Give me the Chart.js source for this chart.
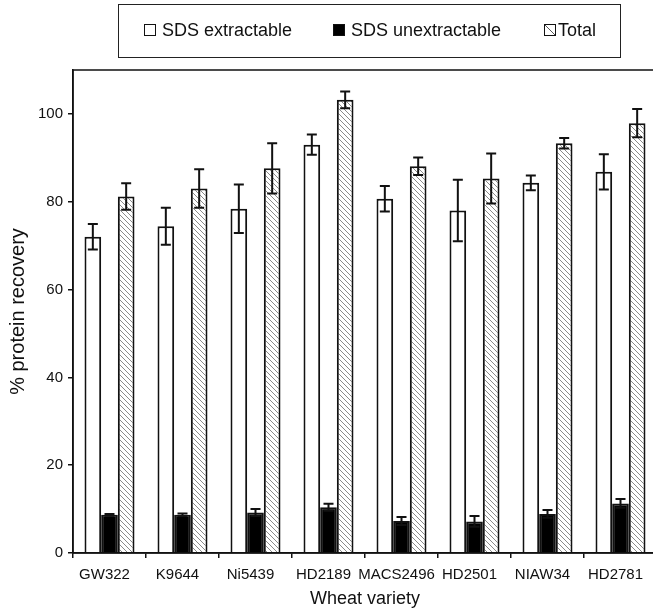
<!DOCTYPE html>
<html lang="en">
<head>
  <meta charset="UTF-8">
  <title>Protein recovery by wheat variety</title>
  <style>
    body {
      margin: 0;
      background: #fff;
      overflow: hidden;
      font-family: "Liberation Sans", Arial, sans-serif;
    }
    #wrap {
      position: relative;
      width: 653px;
      height: 611px;
      overflow: hidden;
    }
    #chart {
      position: absolute;
      left: 0;
      top: 0;
    }
    #legend {
      position: absolute;
      left: 118px;
      top: 4px;
      width: 501px;
      height: 52px;
      border: 1.5px solid #222;
      font-size: 18px;
      color: #111;
    }
    #legend .item {
      position: absolute;
      top: 14px;
      line-height: 22px;
      white-space: nowrap;
    }
    #legend .sw {
      display: inline-block;
      width: 10px;
      height: 10px;
      border: 1.5px solid #111;
      margin-right: 6px;
      vertical-align: 0px;
    }
  </style>
</head>
<body>
  <div id="wrap">
    <canvas id="chart" width="670" height="611"></canvas>
    <div id="legend">
      <div class="item" style="left:25px"><span class="sw" style="background:#fff"></span>SDS extractable</div>
      <div class="item" style="left:214px"><span class="sw" style="background:#000"></span>SDS unextractable</div>
      <div class="item" style="left:425px"><span class="sw" id="hatchSw" style="margin-right:2px"></span>Total</div>
    </div>
  </div>

  <script src="https://cdn.jsdelivr.net/npm/chart.js"></script>
  <script>
    const categories = ['GW322', 'K9644', 'Ni5439', 'HD2189', 'MACS2496', 'HD2501', 'NIAW34', 'HD2781'];
    const extractable = [72.0, 74.4, 78.4, 93.0, 80.7, 78.0, 84.3, 86.8];
    const extractableErr = [2.9, 4.2, 5.5, 2.3, 2.9, 7.0, 1.7, 4.0];
    const unextractable = [8.7, 8.7, 9.2, 10.4, 7.3, 7.2, 8.9, 11.3];
    const unextractableErr = [0.2, 0.3, 0.8, 0.8, 0.9, 1.2, 0.9, 1.0];
    const total = [81.2, 83.0, 87.6, 103.2, 88.1, 85.3, 93.3, 97.9];
    const totalErr = [3.0, 4.4, 5.7, 1.9, 2.0, 5.7, 1.2, 3.2];
    const yTicks = [0, 20, 40, 60, 80, 100];

    // diagonal hatch for the Total bars
    function makeHatch(size, color) {
      const c = document.createElement('canvas');
      c.width = size;
      c.height = size;
      const g = c.getContext('2d');
      g.fillStyle = '#fff';
      g.fillRect(0, 0, size, size);
      g.strokeStyle = color;
      g.lineWidth = 1;
      g.beginPath();
      g.moveTo(-1, -1); g.lineTo(size + 1, size + 1);
      g.moveTo(-1, size - 1); g.lineTo(1, size + 1);
      g.moveTo(size - 1, -1); g.lineTo(size + 1, 1);
      g.stroke();
      return c;
    }
    const ctx = document.getElementById('chart').getContext('2d');
    const hatch = ctx.createPattern(makeHatch(5, '#8a8a8a'), 'repeat');
    document.getElementById('hatchSw').style.background =
      'url(' + makeHatch(10, '#555').toDataURL() + ')';

    const errors = [extractableErr, unextractableErr, totalErr];

    const errorBars = {
      id: 'errorBars',
      afterDatasetsDraw(chart) {
        const c = chart.ctx;
        const y = chart.scales.y;
        c.save();
        c.strokeStyle = '#111';
        c.lineWidth = 2;
        chart.data.datasets.forEach((ds, i) => {
          const meta = chart.getDatasetMeta(i);
          meta.data.forEach((bar, j) => {
            const v = ds.data[j], e = errors[i][j];
            const top = y.getPixelForValue(v + e);
            const bot = y.getPixelForValue(v - e);
            c.beginPath();
            c.moveTo(bar.x, top); c.lineTo(bar.x, bot);
            c.moveTo(bar.x - 5, top); c.lineTo(bar.x + 5, top);
            c.moveTo(bar.x - 5, bot); c.lineTo(bar.x + 5, bot);
            c.stroke();
          });
        });
        c.restore();
      }
    };

    const frame = {
      id: 'frame',
      afterDraw(chart) {
        const a = chart.chartArea, c = chart.ctx;
        c.save();
        c.strokeStyle = '#111';
        c.lineWidth = 1.5;
        c.strokeRect(a.left, a.top, a.right - a.left, a.bottom - a.top);
        c.restore();
      }
    };

    const barStyle = { borderColor: '#111', borderWidth: 2, categoryPercentage: 0.685, barPercentage: 1 };

    new Chart(ctx, {
      type: 'bar',
      data: {
        labels: categories,
        datasets: [
          Object.assign({ label: 'SDS extractable', data: extractable, backgroundColor: '#fff' }, barStyle),
          Object.assign({ label: 'SDS unextractable', data: unextractable, backgroundColor: '#000' }, barStyle),
          Object.assign({ label: 'Total', data: total, backgroundColor: hatch }, barStyle)
        ]
      },
      options: {
        responsive: false,
        animation: false,
        layout: { padding: { top: 70, right: 13, left: 0, bottom: 0 } },
        plugins: { legend: { display: false }, tooltip: { enabled: false } },
        scales: {
          x: {
            offset: true,
            grid: { offset: true, drawOnChartArea: false, drawTicks: true, tickLength: 5, color: '#111', lineWidth: 1.5 },
            border: { color: '#111', width: 1.5 },
            ticks: { color: '#111', font: { family: 'Liberation Sans', size: 15 }, maxRotation: 0, autoSkip: false, padding: 8, labelOffset: -5 },
            title: { display: true, text: 'Wheat variety', color: '#111', font: { family: 'Liberation Sans', size: 18 }, padding: { top: 0, bottom: 1 } },
            afterFit(s) { s.height = 58; }
          },
          y: {
            min: 0,
            max: 110,
            afterBuildTicks(s) { s.ticks = yTicks.map(v => ({ value: v })); },
            grid: { drawOnChartArea: false, drawTicks: true, tickLength: 5, color: '#111', lineWidth: 1.5 },
            border: { color: '#111', width: 1.5 },
            ticks: { color: '#111', font: { family: 'Liberation Sans', size: 15 }, padding: 5 },
            title: { display: true, text: '% protein recovery', color: '#111', font: { family: 'Liberation Sans', size: 20 }, padding: { top: 6, bottom: 0 } },
            afterFit(s) { s.width = 73; }
          }
        }
      },
      plugins: [errorBars, frame]
    });
  </script>
</body>
</html>
